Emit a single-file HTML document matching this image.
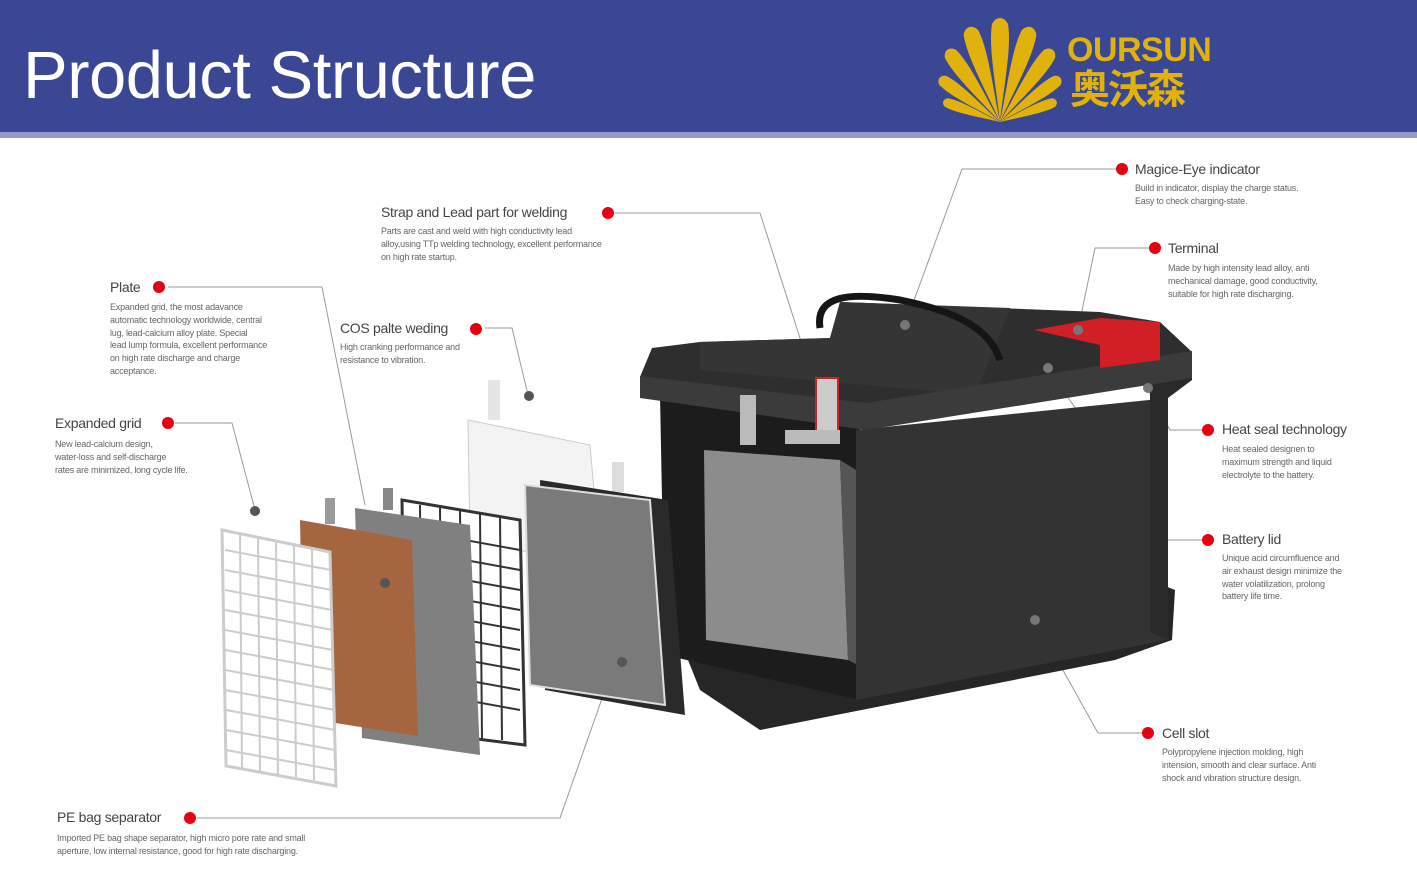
<!DOCTYPE html>
<html><head><meta charset="utf-8"><style>
body{margin:0;width:1417px;height:887px;overflow:hidden;background:#fff;font-family:"Liberation Sans",sans-serif;position:relative}
.hdr{position:absolute;left:0;top:0;width:1417px;height:132px;background:#3a4794}
.str{position:absolute;left:0;top:132px;width:1417px;height:6px;background:#959ac9}
.t{position:absolute;color:#444;font-size:14px;letter-spacing:-0.3px;white-space:nowrap}
.d{position:absolute;color:#666;font-size:9px;line-height:12.8px;white-space:nowrap;letter-spacing:-0.2px}
</style></head><body>
<div class="hdr"></div><div class="str"></div>
<div style="position:absolute;left:23px;top:37px;color:#fff;font-size:67px;letter-spacing:-0.5px">Product Structure</div>
<svg style="position:absolute;left:930px;top:8px;overflow:visible" width="140" height="120" viewBox="0 0 140 120">
<g fill="#e2b20c" transform="translate(70,114)">
<path id="p" d="M0,0 C-3,-30 -12,-75 -8,-98 C-4,-106 4,-106 8,-98 C12,-75 3,-30 0,0Z"/>
<use href="#p" transform="rotate(-18) scale(0.96)"/><use href="#p" transform="rotate(18) scale(0.96)"/>
<use href="#p" transform="rotate(-36) scale(0.86)"/><use href="#p" transform="rotate(36) scale(0.86)"/>
<use href="#p" transform="rotate(-54) scale(0.72)"/><use href="#p" transform="rotate(54) scale(0.72)"/>
<use href="#p" transform="rotate(-70) scale(0.58)"/><use href="#p" transform="rotate(70) scale(0.58)"/>
</g></svg>
<div style="position:absolute;left:1067px;top:32px;color:#e2b20c;font-size:34px;font-weight:bold;letter-spacing:-0.5px;line-height:36px">OURSUN</div>
<div style="position:absolute;left:1070px;top:64px;color:#e2b20c;font-size:40px;font-weight:bold;letter-spacing:-2px;font-family:'Noto Sans CJK SC',sans-serif;line-height:44px">奥沃森</div>

<svg style="position:absolute;left:0;top:0" width="1417" height="887">
<g stroke="#999" stroke-width="1" fill="none">
<polyline points="168,287 322,287 365,505"/>
<polyline points="175,423 232,423 255,510"/>
<polyline points="197,818 560,818 605,690"/>
<polyline points="485,328 512,328 528,395"/>
<polyline points="615,213 760,213 815,385"/>
<polyline points="1118,169 962,169 905,325"/>
<polyline points="1150,248 1095,248 1078,330"/>
<polyline points="1207,430 1170,430 1148,390"/>
<polyline points="1205,540 1165,540 1048,368"/>
<polyline points="1145,733 1098,733 1035,620"/>
</g>
<!-- battery base -->
<polygon points="680,640 700,690 760,730 1115,660 1172,640 1175,590 1150,580 690,650" fill="#262626"/>
<!-- interior cutaway -->
<polygon points="660,395 860,420 860,700 665,655" fill="#1c1c1c"/>
<polygon points="704,450 840,460 848,660 706,640" fill="#8c8c8c"/>
<polygon points="840,460 856,470 858,665 848,660" fill="#555"/>
<!-- front face -->
<polygon points="856,430 1168,398 1168,640 856,700" fill="#333"/>
<polygon points="1150,385 1192,372 1192,380 1168,398 1168,640 1150,632" fill="#2a2a2a"/>
<!-- lid top -->
<polygon points="652,348 700,342 830,338 840,302 1100,312 1160,322 1192,352 866,404 640,377" fill="#2e2e2e"/>
<polygon points="700,342 830,338 840,302 1010,308 975,395 700,370" fill="#353535"/>
<!-- lid front band -->
<polygon points="640,376 866,403 1192,351 1192,378 866,430 640,398" fill="#3b3b3b"/>
<!-- red terminal -->
<polygon points="1034,330 1100,318 1160,322 1160,360 1100,368 1100,345" fill="#d21f26"/>
<!-- handle -->
<path d="M820,328 C815,295 850,292 900,300 C960,312 990,330 1000,360" stroke="#151515" stroke-width="7" fill="none"/>
<!-- pole -->
<rect x="816" y="378" width="22" height="58" fill="#ccc" stroke="#c22" stroke-width="2"/>
<rect x="740" y="395" width="16" height="50" fill="#bbb"/>
<rect x="785" y="430" width="55" height="14" fill="#bbb"/>
<!-- exploded plates -->
<polygon points="468,420 590,445 600,560 470,545" fill="#f3f3f3" stroke="#ccc"/>
<rect x="488" y="380" width="12" height="40" fill="#e5e5e5"/>
<rect x="612" y="462" width="12" height="30" fill="#ddd"/>
<polygon points="540,480 668,500 685,715 545,690" fill="#2a2a2a"/>
<polygon points="525,485 650,500 665,705 530,685" fill="#7a7a7a" stroke="#ddd" stroke-width="2"/>
<polygon points="402,500 520,520 525,745 405,730" fill="#fff" stroke="#333" stroke-width="3"/>
<g stroke="#333" stroke-width="2">
<line x1="410" y1="530" x2="520" y2="550"/><line x1="410" y1="550" x2="520" y2="570"/><line x1="410" y1="570" x2="520" y2="590"/><line x1="410" y1="590" x2="520" y2="610"/><line x1="410" y1="610" x2="520" y2="630"/><line x1="410" y1="630" x2="520" y2="650"/><line x1="410" y1="650" x2="520" y2="670"/><line x1="410" y1="670" x2="520" y2="690"/><line x1="410" y1="690" x2="520" y2="710"/>
<line x1="420" y1="505" x2="422" y2="735"/><line x1="440" y1="508" x2="442" y2="736"/><line x1="460" y1="510" x2="462" y2="738"/><line x1="480" y1="513" x2="482" y2="739"/><line x1="500" y1="516" x2="502" y2="740"/>
</g>
<polygon points="355,508 470,525 480,755 362,738" fill="#808080"/>
<rect x="383" y="488" width="10" height="22" fill="#888"/>
<polygon points="300,520 412,540 418,736 304,718" fill="#a5653e"/>
<rect x="325" y="498" width="10" height="26" fill="#9a9a9a"/>
<polygon points="222,530 330,552 336,786 226,766" fill="#fff" stroke="#ccc" stroke-width="3"/>
<g stroke="#ccc" stroke-width="2">
<line x1="225" y1="550" x2="331" y2="570"/><line x1="225" y1="570" x2="332" y2="590"/><line x1="225" y1="590" x2="332" y2="610"/><line x1="225" y1="610" x2="333" y2="630"/><line x1="225" y1="630" x2="333" y2="650"/><line x1="225" y1="650" x2="334" y2="670"/><line x1="225" y1="670" x2="334" y2="690"/><line x1="225" y1="690" x2="335" y2="710"/><line x1="226" y1="710" x2="335" y2="730"/><line x1="226" y1="730" x2="335" y2="750"/><line x1="226" y1="750" x2="335" y2="770"/>
<line x1="240" y1="533" x2="242" y2="768"/><line x1="258" y1="537" x2="260" y2="772"/><line x1="276" y1="541" x2="278" y2="775"/><line x1="294" y1="545" x2="296" y2="778"/><line x1="312" y1="548" x2="314" y2="782"/>
</g>
<!-- grey dots -->
<g fill="#555"><circle cx="255" cy="511" r="5"/><circle cx="529" cy="396" r="5"/><circle cx="622" cy="662" r="5"/><circle cx="385" cy="583" r="5"/></g>
<g fill="#777"><circle cx="1078" cy="330" r="5"/><circle cx="1048" cy="368" r="5"/><circle cx="1148" cy="388" r="5"/><circle cx="1035" cy="620" r="5"/><circle cx="905" cy="325" r="5"/></g>
<!-- red dots -->
<g fill="#e60012"><circle cx="159" cy="287" r="6"/><circle cx="168" cy="423" r="6"/><circle cx="190" cy="818" r="6"/><circle cx="476" cy="329" r="6"/><circle cx="608" cy="213" r="6"/><circle cx="1122" cy="169" r="6"/><circle cx="1155" cy="248" r="6"/><circle cx="1208" cy="430" r="6"/><circle cx="1208" cy="540" r="6"/><circle cx="1148" cy="733" r="6"/></g>
</svg>

<div class="t" style="left:110px;top:279px">Plate</div>
<div class="d" style="left:110px;top:301px">Expanded grid, the most adavance<br>automatic technology worldwide, central<br>lug, lead-calcium alloy plate. Special<br>lead lump formula, excellent performance<br>on high rate discharge and charge<br>acceptance.</div>
<div class="t" style="left:55px;top:415px">Expanded grid</div>
<div class="d" style="left:55px;top:438px">New lead-calcium design,<br>water-loss and self-discharge<br>rates are minimized, long cycle life.</div>
<div class="t" style="left:57px;top:809px">PE bag separator</div>
<div class="d" style="left:57px;top:832px">Imported PE bag shape separator, high micro pore rate and small<br>aperture, low internal resistance, good for high rate discharging.</div>
<div class="t" style="left:340px;top:320px">COS palte weding</div>
<div class="d" style="left:340px;top:341px">High cranking performance and<br>resistance to vibration.</div>
<div class="t" style="left:381px;top:204px">Strap and Lead part for welding</div>
<div class="d" style="left:381px;top:225px">Parts are cast and weld with high conductivity lead<br>alloy,using TTp welding technology, excellent performance<br>on high rate startup.</div>
<div class="t" style="left:1135px;top:161px">Magice-Eye indicator</div>
<div class="d" style="left:1135px;top:182px">Build in indicator, display the charge status.<br>Easy to check charging-state.</div>
<div class="t" style="left:1168px;top:240px">Terminal</div>
<div class="d" style="left:1168px;top:262px">Made by high intensity lead alloy, anti<br>mechanical damage, good conductivity,<br>suitable for high rate discharging.</div>
<div class="t" style="left:1222px;top:421px">Heat seal technology</div>
<div class="d" style="left:1222px;top:443px">Heat sealed designen to<br>maximum strength and liquid<br>electrolyte to the battery.</div>
<div class="t" style="left:1222px;top:531px">Battery lid</div>
<div class="d" style="left:1222px;top:552px">Unique acid circumfluence and<br>air exhaust design minimize the<br>water volatilization, prolong<br>battery life time.</div>
<div class="t" style="left:1162px;top:725px">Cell slot</div>
<div class="d" style="left:1162px;top:746px">Polypropylene injection molding, high<br>intension, smooth and clear surface. Anti<br>shock and vibration structure design.</div>
</body></html>
